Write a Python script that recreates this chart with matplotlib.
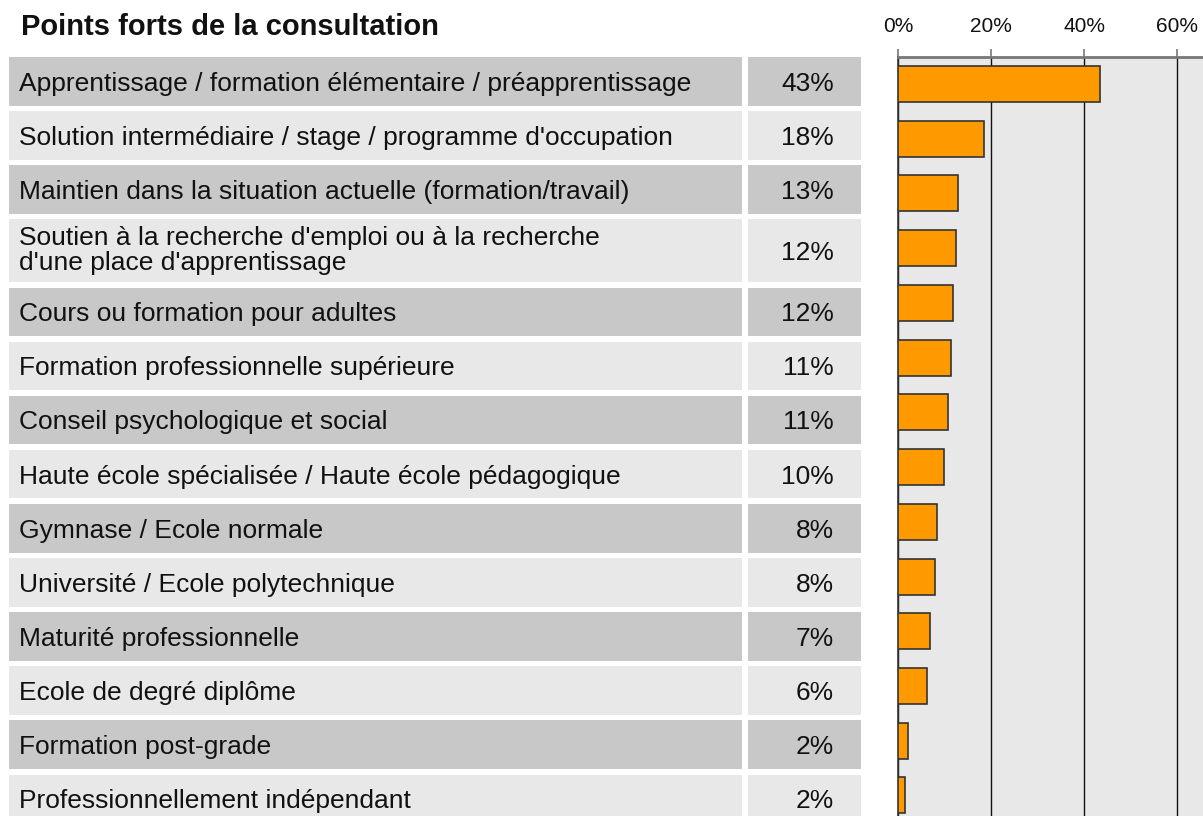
import matplotlib
matplotlib.use("Agg")
import matplotlib.pyplot as plt
from matplotlib.ticker import FuncFormatter

plt.rcParams['font.family'] = ['Liberation Sans', 'DejaVu Sans']

title = "Points forts de la consultation"
categories = [
    "Apprentissage / formation élémentaire / préapprentissage",
    "Solution intermédiaire / stage / programme d'occupation",
    "Maintien dans la situation actuelle (formation/travail)",
    "Soutien à la recherche d'emploi ou à la recherche\nd'une place d'apprentissage",
    "Cours ou formation pour adultes",
    "Formation professionnelle supérieure",
    "Conseil psychologique et social",
    "Haute école spécialisée / Haute école pédagogique",
    "Gymnase / Ecole normale",
    "Université / Ecole polytechnique",
    "Maturité professionnelle",
    "Ecole de degré diplôme",
    "Formation post-grade",
    "Professionnellement indépendant",
]
values = [43.3, 18.4, 12.8, 12.4, 11.8, 11.3, 10.7, 9.8, 8.3, 7.9, 6.8, 6.2, 2.0, 1.5]
value_labels = ["43%", "18%", "13%", "12%", "12%", "11%", "11%", "10%", "8%", "8%", "7%", "6%", "2%", "2%"]
xticks = [0, 20, 40, 60]

W, H = 1203, 816
fig = plt.figure(figsize=(W / 100, H / 100), dpi=100)

# ---- table (labels + values), laid out in pixel units ----
ax_t = fig.add_axes([0, 0, 1, 1])
ax_t.set_xlim(0, W)
ax_t.set_ylim(H, 0)
ax_t.axis('off')
n = len(categories)
base_h, extra_h, gap, top0 = 48.5, 14.2, 5.6, 57.0
line_px = 25.0
heights, centers = [], []
y = top0
for c in categories:
    k = c.count("\n") + 1
    h = base_h + extra_h * (k - 1)
    heights.append(h)
    centers.append(y + h / 2)
    y += h + gap
colors = ['#c8c8c8' if i % 2 == 0 else '#e8e8e8' for i in range(n)]
ax_t.barh(centers, [733] * n, left=9, height=heights, color=colors, linewidth=0)
ax_t.barh(centers, [113] * n, left=748, height=heights, color=colors, linewidth=0)
fs = 19
cap_half = 0.716 * fs * 100 / 72 / 2
for c, v, yc in zip(categories, value_labels, centers):
    lines = c.split("\n")
    k = len(lines)
    off = -3.0 if k > 1 else 0.0
    for j, ln in enumerate(lines):
        yb = yc + off + cap_half + (j - (k - 1) / 2) * line_px
        ax_t.text(19, yb, ln, va='baseline', ha='left', fontsize=fs, color='#111111')
    ax_t.text(834, yc + cap_half, v, va='baseline', ha='right', fontsize=fs,
              color='#111111')

ax_t.text(21, 35, title, fontsize=21, fontweight='bold',
          ha='left', va='baseline', color='#111111')

# ---- bar chart ----
left_px, top_px = 898.3, 57
ax = fig.add_axes([left_px / W, 0, 1 - left_px / W, 1 - top_px / H])
ax.set_facecolor('#e8e8e8')
b0, bp = 84.0, 54.73
ys = list(range(n))
ax.set_ylim((H - b0) / bp, (top_px - b0) / bp)
ax.set_xlim(0, 60 + (W - 1177.3) / 93 * 20)
ax.barh(ys, values, height=36 / bp, color='#ff9900', edgecolor='#333333',
        linewidth=1.2, zorder=3)
ax.set_xticks(xticks)
ax.xaxis.set_major_formatter(FuncFormatter(lambda x, p: f"{x:.0f}%"))
ax.xaxis.tick_top()
ax.tick_params(axis='x', direction='out', length=6, width=1.2, color='#777777',
               labelsize=15, pad=9, labelcolor='#111111')
ax.set_yticks([])
ax.grid(axis='x', color='#111111', linewidth=1, zorder=1)
ax.set_axisbelow(True)
for s in ['right', 'bottom']:
    ax.spines[s].set_visible(False)
ax.spines['top'].set_color('#777777')
ax.spines['top'].set_linewidth(2)
ax.spines['left'].set_color('#333333')
ax.spines['left'].set_linewidth(1.2)

fig.savefig('out.png', dpi=100)
